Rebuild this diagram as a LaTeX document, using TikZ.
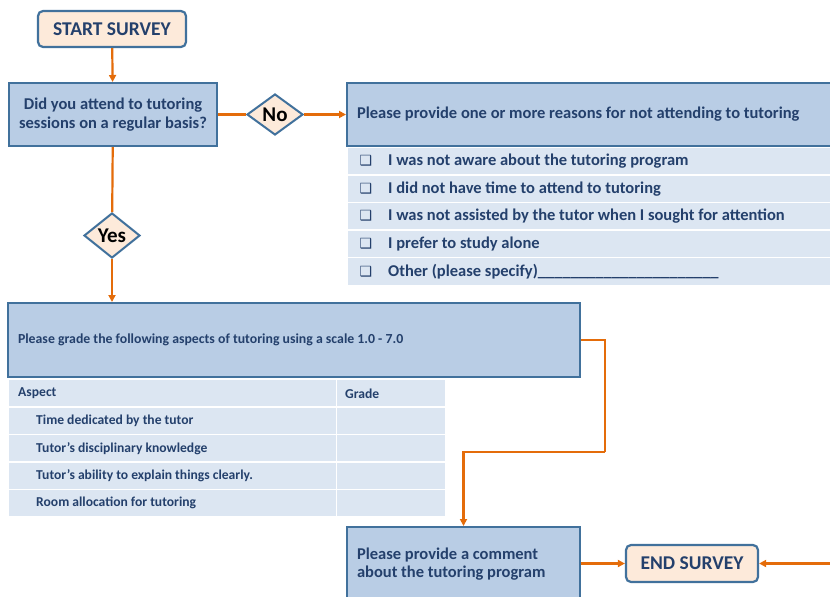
\documentclass[tikz,border=0pt]{standalone}
\usepackage{fontspec}
\setmainfont{Carlito}
\newfontfamily\symbfont{DejaVu Sans}
\usetikzlibrary{shapes.geometric,arrows.meta}

\definecolor{ccframe}{RGB}{65,113,156}
\definecolor{ccbox}{RGB}{185,205,229}
\definecolor{ccrow}{RGB}{220,230,242}
\definecolor{cctext}{RGB}{36,64,108}
\definecolor{ccflow}{RGB}{228,108,10}
\definecolor{ccpeach}{RGB}{253,234,218}

\tikzset{
  survey/.style={rectangle, rounded corners=5pt, draw=ccframe, line width=2.2pt, fill=ccpeach, text=cctext, font=\fontsize{19.5}{22}\selectfont\bfseries},
  panel/.style={rectangle, draw=ccframe, line width=2pt, fill=ccbox, text=cctext, inner sep=0pt, font=\fontsize{16.5}{18.5}\selectfont\bfseries},
  choice/.style={diamond, draw=ccframe, line width=2pt, fill=ccpeach, inner sep=0pt, font=\fontsize{21}{22}\selectfont\bfseries},
  tablerow/.style={rectangle, fill=ccrow, draw=white, line width=1.4pt, inner sep=0pt},
  label/.style={inner sep=0pt, text=cctext, font=\fontsize{16.5}{18}\selectfont\bfseries},
  cell/.style={inner sep=0pt, text=cctext, font=\fontsize{13.6}{16}\selectfont\bfseries},
  tick/.style={inner sep=0pt, text=cctext, font=\symbfont\fontsize{14}{14}\selectfont},
  flow/.style={draw=ccflow, line width=2.2pt},
  flowarrow/.style={flow, -{Triangle[length=7pt,width=7pt]}},
}

\begin{document}
\begin{tikzpicture}[x=1pt, y=-1pt]

  \useasboundingbox (0,0) rectangle (830,597);

  % Start
  \draw (112,29) node[survey, minimum width=148pt, minimum height=36pt] (start) {START SURVEY};

  % Question
  \draw (113,114.5) node[panel, minimum width=208pt, minimum height=63pt, align=center] (question) {Did you attend to tutoring\\sessions on a regular basis?};
  \draw (275,114.5) node[choice, minimum width=56pt, minimum height=41pt] (no) {No};
  \draw (112,235.5) node[choice, minimum width=56pt, minimum height=45pt] (yes) {Yes};

  % Reasons
  \draw (590,114.5) node[panel, minimum width=486pt, minimum height=63pt, text width=466pt, align=flush left] (reasons) {Please provide one or more reasons for not attending to tutoring};
  \draw (347,146.5) node[tablerow, anchor=north west, minimum width=486pt, minimum height=27.6pt] (reason1) {};
  \draw (347,174.1) node[tablerow, anchor=north west, minimum width=486pt, minimum height=27.6pt] (reason2) {};
  \draw (347,201.7) node[tablerow, anchor=north west, minimum width=486pt, minimum height=27.6pt] (reason3) {};
  \draw (347,229.3) node[tablerow, anchor=north west, minimum width=486pt, minimum height=27.6pt] (reason4) {};
  \draw (347,256.9) node[tablerow, anchor=north west, minimum width=486pt, minimum height=27.6pt] (reason5) {};
  \draw ([xshift=19pt]reason1.west) node[tick] (tick1) {❑};
  \draw ([xshift=19pt]reason2.west) node[tick] (tick2) {❑};
  \draw ([xshift=19pt]reason3.west) node[tick] (tick3) {❑};
  \draw ([xshift=19pt]reason4.west) node[tick] (tick4) {❑};
  \draw ([xshift=19pt]reason5.west) node[tick] (tick5) {❑};
  \draw ([xshift=41pt]reason1.west) node[label, anchor=west] (reasontext1) {I was not aware about the tutoring program};
  \draw ([xshift=41pt]reason2.west) node[label, anchor=west] (reasontext2) {I did not have time to attend to tutoring};
  \draw ([xshift=41pt]reason3.west) node[label, anchor=west] (reasontext3) {I was not assisted by the tutor when I sought for attention};
  \draw ([xshift=41pt]reason4.west) node[label, anchor=west] (reasontext4) {I prefer to study alone};
  \draw ([xshift=41pt]reason5.west) node[label, anchor=west] (reasontext5) {Other (please specify)\_\_\_\_\_\_\_\_\_\_\_\_\_\_\_\_\_\_\_\_\_\_};

  % Grades
  \draw (294,340) node[panel, minimum width=572pt, minimum height=74pt, text width=552pt, align=flush left, font=\fontsize{13.8}{16}\selectfont\bfseries] (grade) {Please grade the following aspects of tutoring using a scale 1.0 - 7.0};
  \draw (8,379) node[tablerow, anchor=north west, minimum width=328pt, minimum height=27.4pt] (aspect0) {};
  \draw (8,406.4) node[tablerow, anchor=north west, minimum width=328pt, minimum height=27.4pt] (aspect1) {};
  \draw (8,433.8) node[tablerow, anchor=north west, minimum width=328pt, minimum height=27.4pt] (aspect2) {};
  \draw (8,461.2) node[tablerow, anchor=north west, minimum width=328pt, minimum height=27.4pt] (aspect3) {};
  \draw (8,488.6) node[tablerow, anchor=north west, minimum width=328pt, minimum height=27.4pt] (aspect4) {};
  \draw (336,379) node[tablerow, anchor=north west, minimum width=109pt, minimum height=27.4pt] (mark0) {};
  \draw (336,406.4) node[tablerow, anchor=north west, minimum width=109pt, minimum height=27.4pt] (mark1) {};
  \draw (336,433.8) node[tablerow, anchor=north west, minimum width=109pt, minimum height=27.4pt] (mark2) {};
  \draw (336,461.2) node[tablerow, anchor=north west, minimum width=109pt, minimum height=27.4pt] (mark3) {};
  \draw (336,488.6) node[tablerow, anchor=north west, minimum width=109pt, minimum height=27.4pt] (mark4) {};
  \draw ([xshift=10pt]aspect0.west) node[cell, anchor=west] (aspecttext0) {Aspect};
  \draw ([xshift=9pt]mark0.west) node[cell, anchor=west] (marktext0) {Grade};
  \draw ([xshift=28pt]aspect1.west) node[cell, anchor=west] (aspecttext1) {Time dedicated by the tutor};
  \draw ([xshift=28pt]aspect2.west) node[cell, anchor=west] (aspecttext2) {Tutor’s disciplinary knowledge};
  \draw ([xshift=28pt]aspect3.west) node[cell, anchor=west] (aspecttext3) {Tutor’s ability to explain things clearly.};
  \draw ([xshift=28pt]aspect4.west) node[cell, anchor=west] (aspecttext4) {Room allocation for tutoring};

  % Comment and end
  \draw (463.5,564) node[panel, minimum width=233pt, minimum height=74pt, text width=213pt, align=flush left] (comment) {Please provide a comment\\about the tutoring program};
  \draw (692,563.5) node[survey, minimum width=132pt, minimum height=37pt] (finish) {END SURVEY};
  \coordinate (turn) at (605,452);
  \coordinate (offpage) at (832,563.5);

  % Flow
  \draw[flowarrow] (start) -- (question);
  \draw[flow] (question) -- (no);
  \draw[flowarrow] (no) -- (reasons.west |- no);
  \draw[flow] (question) -- (yes);
  \draw[flowarrow] (yes) -- (grade.north -| yes);
  \draw[flow] (grade.east) -| (turn);
  \draw[flowarrow] (turn) -| (comment.north);
  \draw[flowarrow] (comment.east |- finish) -- (finish);
  \draw[flowarrow] (offpage) -- (finish);

\end{tikzpicture}
\end{document}
